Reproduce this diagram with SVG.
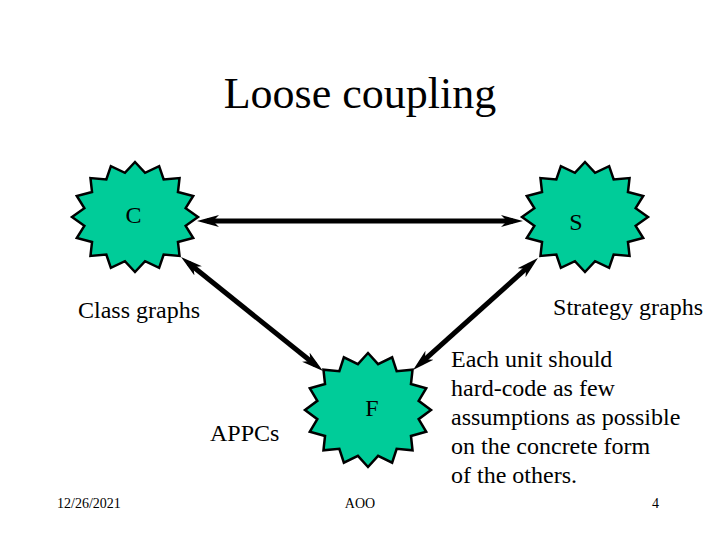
<svg xmlns="http://www.w3.org/2000/svg" width="720" height="540" viewBox="0 0 720 540" font-family="'Liberation Serif', 'Times New Roman', serif">
<style>
.lbl{font-size:24px;font-family:"Liberation Serif","Times New Roman",serif}
.foot{font-size:14px;font-family:"Liberation Serif","Times New Roman",serif}
.star{fill:#00cc99;stroke:#000;stroke-width:2.5;stroke-linejoin:miter}
.conn{stroke:#000;stroke-width:5;fill:none}
</style>
<defs>
<path id="starShape" vector-effect="non-scaling-stroke" d="M0,-1 L.160,-.804 L.383,-.924 L.455,-.682 L.707,-.707 L.682,-.455 L.924,-.383 L.804,-.160 L1,0 L.804,.160 L.924,.383 L.682,.455 L.707,.707 L.455,.682 L.383,.924 L.160,.804 L0,1 L-.160,.804 L-.383,.924 L-.455,.682 L-.707,.707 L-.682,.455 L-.924,.383 L-.804,.160 L-1,0 L-.804,-.160 L-.924,-.383 L-.682,-.455 L-.707,-.707 L-.455,-.682 L-.383,-.924 L-.160,-.804 Z"/>
<marker id="ah" viewBox="0 0 24 14" markerUnits="userSpaceOnUse" markerWidth="24" markerHeight="14" refX="12" refY="7" orient="auto-start-reverse">
<path d="M0,1 L22,7 L0,13 L6,7 Z" fill="#000"/>
</marker>
</defs>
<text x="360" y="108" font-size="44" text-anchor="middle" font-family="'Liberation Serif', 'Times New Roman', serif">Loose coupling</text>
<g id="connectors">
<line class="conn" x1="207" y1="221" x2="513" y2="221" marker-start="url(#ah)" marker-end="url(#ah)"/>
<line class="conn" x1="188.8" y1="263.3" x2="315.2" y2="364.7" marker-start="url(#ah)" marker-end="url(#ah)"/>
<line class="conn" x1="530.5" y1="264.7" x2="420.5" y2="363.3" marker-start="url(#ah)" marker-end="url(#ah)"/>
</g>
<g id="nodeC">
<use href="#starShape" class="star" transform="translate(135,217) scale(63,55)"/>
<text class="lbl" x="133.5" y="223" text-anchor="middle">C</text>
</g>
<g id="nodeS">
<use href="#starShape" class="star" transform="translate(585,217) scale(63,55)"/>
<text class="lbl" x="576" y="230" text-anchor="middle">S</text>
</g>
<g id="nodeF">
<use href="#starShape" class="star" transform="translate(368,410) scale(63,57)"/>
<text class="lbl" x="372" y="416" text-anchor="middle">F</text>
</g>
<text class="lbl" x="78" y="318">Class graphs</text>
<text class="lbl" x="703" y="315" text-anchor="end">Strategy graphs</text>
<text class="lbl" x="210" y="441">APPCs</text>
<g id="note">
<text class="lbl" x="451" y="367">Each unit should</text>
<text class="lbl" x="451" y="396">hard-code as few</text>
<text class="lbl" x="451" y="425">assumptions as possible</text>
<text class="lbl" x="451" y="454">on the concrete form</text>
<text class="lbl" x="451" y="483">of the others.</text>
</g>
<text class="foot" x="57" y="508">12/26/2021</text>
<text class="foot" x="360" y="508" text-anchor="middle">AOO</text>
<text class="foot" x="652" y="508">4</text>
</svg>
